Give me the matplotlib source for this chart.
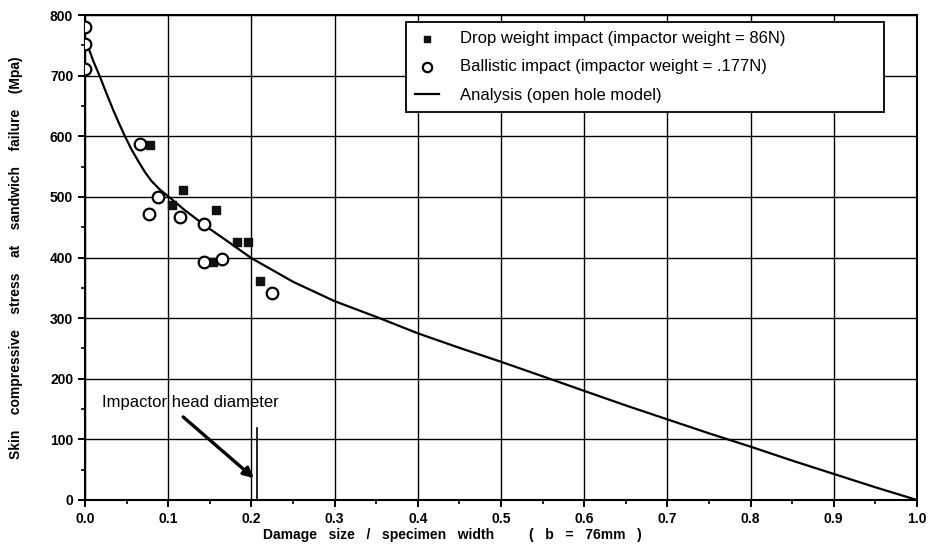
import matplotlib
matplotlib.use("Agg")
import matplotlib.pyplot as plt
from matplotlib.ticker import MultipleLocator

plt.rcParams['font.family'] = ['Liberation Sans', 'DejaVu Sans']

# drop weight impact (squares)
drop_x = [0.078, 0.104, 0.1175, 0.154, 0.157, 0.183, 0.196, 0.210]
drop_y = [585, 486, 512, 393, 478, 425, 425, 362]

# ballistic impact (open circles)
ball_x = [0.0, 0.0, 0.0, 0.066, 0.077, 0.088, 0.114, 0.143, 0.143, 0.165, 0.225]
ball_y = [780, 753, 711, 588, 472, 499, 467, 456, 393, 397, 342]

# open hole model curve
model_x = [0.003, 0.010, 0.018, 0.026, 0.034, 0.041, 0.048, 0.056, 0.064, 0.072,
           0.080, 0.090, 0.100, 0.120, 0.146, 0.170, 0.200, 0.250, 0.300, 0.354,
           0.400, 0.450, 0.500, 0.546, 0.600, 0.650, 0.700, 0.750, 0.800, 0.850,
           0.900, 0.950, 1.000]
model_y = [750, 724, 698, 670, 643, 621, 600, 578, 559, 541,
           526, 512, 501, 478, 451, 428, 399, 360, 328, 300,
           275, 251, 228, 206, 180, 156, 133, 110, 88, 65,
           43, 21, 0]

impactor_x = 0.207
impactor_top = 118

fig = plt.figure(figsize=(9.29, 5.48), dpi=100)
ax = fig.add_axes([0.0915, 0.0876, 0.8955, 0.885])

ax.plot(model_x, model_y, color='black', lw=1.6, label='Analysis (open hole model)', zorder=3)
ax.scatter(drop_x, drop_y, marker='s', s=28, color='#111111', zorder=4,
           label='Drop weight impact (impactor weight = 86N)')
ax.scatter(ball_x, ball_y, marker='o', s=70, facecolor='white', edgecolor='black',
           linewidths=1.6, zorder=5, label='Ballistic impact (impactor weight = .177N)')

# impactor head diameter marker
ax.plot([impactor_x, impactor_x], [0, impactor_top], color='black', lw=1.2, zorder=3)
ax.text(0.021, 160, 'Impactor head diameter', fontsize=12, va='center', ha='left')
ax.annotate('', xy=(0.203, 36), xytext=(0.118, 137),
            arrowprops=dict(arrowstyle='-|>', color='black', lw=2.4,
                            shrinkA=0, shrinkB=0, mutation_scale=15))

ax.set_xlim(0, 1.0)
ax.set_ylim(0, 800)
ax.xaxis.set_minor_locator(MultipleLocator(0.05))
ax.yaxis.set_major_locator(MultipleLocator(100))
ax.yaxis.set_minor_locator(MultipleLocator(50))
ax.set_xticks([i / 10 for i in range(11)])
ax.set_xticklabels(['0.0', '0.1', '0.2', '0.3', '0.4', '0.5', '0.6', '0.7', '0.8', '0.9', '1.0'])

ax.grid(True, which='major', color='black', lw=1.0)
ax.tick_params(which='major', direction='out', length=5, width=1.4, labelsize=10)
ax.tick_params(which='minor', direction='out', length=3, width=1.2)
for lab in ax.get_xticklabels() + ax.get_yticklabels():
    lab.set_fontweight('bold')
for sp in ax.spines.values():
    sp.set_linewidth(1.5)

ax.set_xlabel('Damage   size   /   specimen   width         (   b   =   76mm   )',
              fontsize=10, fontweight='bold')
ax.xaxis.set_label_coords(0.441, -0.058)
ax.set_ylabel('Skin    compressive    stress    at    sandwich    failure    (Mpa)',
              fontsize=10, fontweight='bold')
ax.yaxis.set_label_coords(-0.074, 0.50)

handles, labels = ax.get_legend_handles_labels()
order = [1, 2, 0]
leg = ax.legend([handles[i] for i in order], [labels[i] for i in order],
                loc='upper left', bbox_to_anchor=(0.386, 0.0, 0.574, 0.986),
                mode='expand', borderaxespad=0, fontsize=12,
                frameon=True, fancybox=False, edgecolor='black', framealpha=1,
                handlelength=1.4, handletextpad=1.3, borderpad=0.55,
                labelspacing=0.8, markerscale=0.8)
leg.get_frame().set_linewidth(1.3)

fig.savefig('out.png', dpi=100)
